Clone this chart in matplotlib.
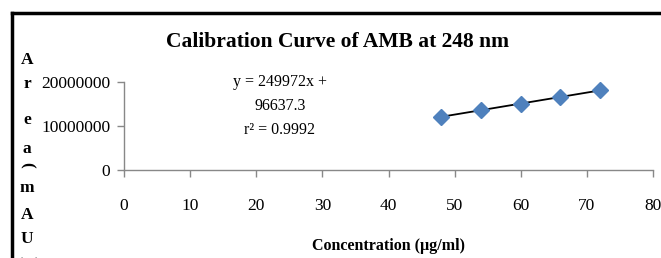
import numpy as np
import matplotlib
matplotlib.use('Agg')
import matplotlib.pyplot as plt
from matplotlib.lines import Line2D

# calibration data
conc = [48, 54, 60, 66, 72]
area = [12100000, 13600000, 15100000, 16600000, 18100000]
x_ticks = [0, 10, 20, 30, 40, 50, 60, 70, 80]
y_ticks = [0, 10000000, 20000000]
slope = 249972
intercept = 96637.3
r2 = 0.9992

plt.rcParams['font.family'] = ['Liberation Serif', 'DejaVu Serif']

W, H = 661, 258
fig = plt.figure(figsize=(W / 100, H / 100), dpi=100)
ax = fig.add_axes([124 / W, 1 - 170 / H, (653 - 124) / W, (170 - 82) / H])

# fitted trend line over the data range, then the points
fit_x = np.array([conc[0], conc[-1]])
ax.plot(fit_x, slope * fit_x + intercept, color='black', lw=1.3, zorder=2)
ax.plot(conc, area, linestyle='none', marker='D', markersize=8.5,
        color='#4F81BD', zorder=3)

ax.set_xlim(0, 80)
ax.set_ylim(0, 20000000)
ax.set_xticks(x_ticks)
ax.set_yticks(y_ticks)
ax.set_xticklabels([str(t) for t in x_ticks])
ax.set_yticklabels([str(t) for t in y_ticks])
ax.tick_params(axis='both', colors='#888888', labelcolor='black',
               labelsize=12.5, length=5, width=1)
ax.tick_params(axis='x', pad=15)
ax.tick_params(axis='y', pad=5)
for side in ['top', 'right']:
    ax.spines[side].set_visible(False)
for side in ['left', 'bottom']:
    ax.spines[side].set_color('#888888')
    ax.spines[side].set_linewidth(1)

# title and x label
fig.text(337 / W, 1 - 42 / H, 'Calibration Curve of AMB at 248 nm',
         ha='center', va='center', fontsize=15.5, fontweight='bold')
fig.text(388 / W, 1 - 246 / H, 'Concentration (µg/ml)',
         ha='center', va='center', fontsize=11.5, fontweight='bold')

# equation box text
fig.text(280 / W, 1 - 82 / H, 'y = %dx +' % slope, ha='center', va='center', fontsize=11.5)
fig.text(280 / W, 1 - 106 / H, '%.1f' % intercept, ha='center', va='center', fontsize=11.5)
fig.text(280 / W, 1 - 130 / H, 'r² = %.4f' % r2, ha='center', va='center', fontsize=11.5)

# stacked y label, letter by letter
ylab = ['A', 'r', 'e', 'a', '(', 'm', 'A', 'U', ')']
ypos = [60, 84, 120, 149, 165, 188, 215, 239, 259]
for ch, yp in zip(ylab, ypos):
    rot = -90 if ch in '()' else 0
    fig.text(27 / W, 1 - yp / H, ch, ha='center', va='center',
             fontsize=12.5, fontweight='bold', rotation=rot)

# outer frame (only the left and top sides are visible)
fig.add_artist(Line2D([12 / W, 12 / W], [0, 1 - 13 / H], color='black', lw=2.5,
                      transform=fig.transFigure))
fig.add_artist(Line2D([12 / W, 1], [1 - 13 / H, 1 - 13 / H], color='black', lw=2.5,
                      transform=fig.transFigure))

fig.savefig('out.png', dpi=100)
